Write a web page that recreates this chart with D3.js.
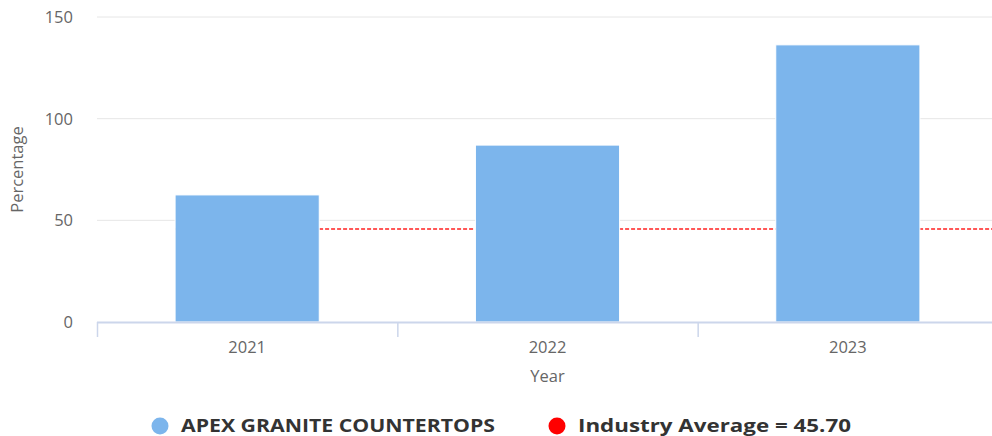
<!DOCTYPE html>
<html>
<head>
<meta charset="utf-8">
<script src="https://cdn.jsdelivr.net/npm/d3@7"></script>
<style>
  body { margin: 0; background: #fff; }
  text { font-family: "Open Sans", "DejaVu Sans", sans-serif; }
</style>
</head>
<body>
<div id="chart"></div>
<script>
let years = ["2021", "2022", "2023"];
let companyValues = [62.5, 87, 136.3];
let industryAverage = 45.7;
let yTicks = [0, 50, 100, 150];
let seriesName = "APEX GRANITE COUNTERTOPS";

let w = 992, h = 436;
let plotLeft = 97, plotRight = 992, plotTop = 17, plotBottom = 322;

let svg = d3.select("#chart").append("svg")
    .attr("width", w)
    .attr("height", h);

// the category band runs a little past the right edge of the picture
let x = d3.scaleBand().domain(years).range([plotLeft, 998]).paddingInner(0).paddingOuter(0);
let y = d3.scaleLinear().domain([0, 150]).range([plotBottom, plotTop]);

// grid lines
svg.append("g")
  .selectAll("line")
  .data(yTicks.slice(1))
  .enter().append("line")
    .attr("x1", plotLeft).attr("x2", plotRight)
    .attr("y1", d => y(d)).attr("y2", d => y(d))
    .attr("stroke", "#e6e6e6")
    .attr("stroke-width", 1);

// y labels
svg.append("g")
  .selectAll("text")
  .data(yTicks)
  .enter().append("text")
    .attr("x", 73)
    .attr("y", d => y(d) + 6)
    .attr("text-anchor", "end")
    .attr("fill", "#666")
    .attr("font-size", 16.5)
    .text(d => d);

// industry average line
let avgY = y(industryAverage);
svg.append("line")
  .attr("x1", x("2021") + x.bandwidth() * 0.26).attr("x2", plotRight)
  .attr("y1", avgY).attr("y2", avgY)
  .attr("stroke", "#ff2020")
  .attr("stroke-width", 1.5)
  .attr("stroke-dasharray", "4,2");

// bars
let barW = x.bandwidth() * 0.48;
svg.append("g")
  .selectAll("rect")
  .data(years)
  .enter().append("rect")
    .attr("x", d => x(d) + (x.bandwidth() - barW) / 2)
    .attr("y", (d, i) => y(companyValues[i]))
    .attr("width", barW)
    .attr("height", (d, i) => plotBottom - y(companyValues[i]))
    .attr("fill", "#7cb5ec")
    .attr("stroke", "#fff")
    .attr("stroke-width", 1);

// x axis
svg.append("line")
  .attr("x1", plotLeft).attr("x2", plotRight)
  .attr("y1", plotBottom + 0.5).attr("y2", plotBottom + 0.5)
  .attr("stroke", "#ccd6eb")
  .attr("stroke-width", 2);

svg.append("g")
  .selectAll("line")
  .data(years)
  .enter().append("line")
    .attr("x1", d => x(d) + 0.5)
    .attr("x2", d => x(d) + 0.5)
    .attr("y1", plotBottom).attr("y2", plotBottom + 15)
    .attr("stroke", "#ccd6eb")
    .attr("stroke-width", 1.5);

svg.append("g")
  .selectAll("text")
  .data(years)
  .enter().append("text")
    .attr("x", d => x(d) + x.bandwidth() / 2)
    .attr("y", 353)
    .attr("text-anchor", "middle")
    .attr("fill", "#666")
    .attr("font-size", 16.5)
    .text(d => d);

// axis titles
svg.append("text")
  .attr("x", x("2022") + x.bandwidth() / 2)
  .attr("y", 382)
  .attr("text-anchor", "middle")
  .attr("fill", "#666")
  .attr("font-size", 16.5)
  .text("Year");

svg.append("text")
  .attr("transform", "translate(23," + ((plotTop + plotBottom) / 2) + ") rotate(-90)")
  .attr("text-anchor", "middle")
  .attr("fill", "#666")
  .attr("font-size", 16.5)
  .text("Percentage");

// legend
let legend = [
  { label: seriesName, color: "#7cb5ec", cx: 160, len: 314 },
  { label: "Industry Average = " + industryAverage.toFixed(2), color: "#ff0000", cx: 557, len: 273 }
];
let lg = svg.append("g").selectAll("g").data(legend).enter().append("g");
lg.append("circle")
  .attr("cx", d => d.cx).attr("cy", 426)
  .attr("r", 8.5)
  .attr("fill", d => d.color);
lg.append("text")
  .attr("x", d => d.cx + 21)
  .attr("y", 432)
  .attr("fill", "#333")
  .attr("font-size", 17)
  .attr("font-weight", "bold")
  .attr("font-family", "'DejaVu Sans', sans-serif")
  .attr("textLength", d => d.len)
  .attr("lengthAdjust", "spacingAndGlyphs")
  .text(d => d.label);
</script>
</body>
</html>
